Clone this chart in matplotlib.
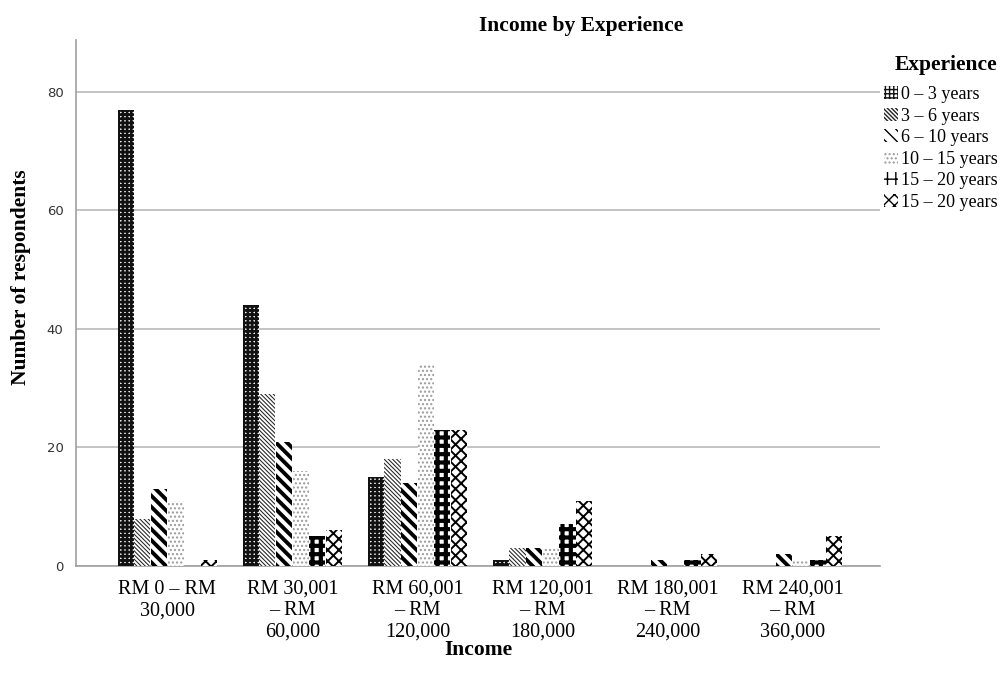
import numpy as np
import matplotlib
matplotlib.use("Agg")
import matplotlib.pyplot as plt

# income bands on the x axis
income = ["RM 0 \u2013 RM\n30,000", "RM 30,001\n\u2013 RM\n60,000", "RM 60,001\n\u2013 RM\n120,000",
          "RM 120,001\n\u2013 RM\n180,000", "RM 180,001\n\u2013 RM\n240,000", "RM 240,001\n\u2013 RM\n360,000"]

# experience groups (legend) - the last label is duplicated in the original
experience = ["0 \u2013 3 years", "3 \u2013 6 years", "6 \u2013 10 years",
              "10 \u2013 15 years", "15 \u2013 20 years", "15 \u2013 20 years"]

exp_0_3 = [77, 44, 15, 1, 0, 0]
exp_3_6 = [8, 29, 18, 3, 0, 0]
exp_6_10 = [13, 21, 14, 3, 1, 2]
exp_10_15 = [11, 16, 34, 3, 0, 1]
exp_15_20 = [0, 5, 23, 7, 1, 1]
exp_15_20b = [1, 6, 23, 11, 2, 5]

series = [exp_0_3, exp_3_6, exp_6_10, exp_10_15, exp_15_20, exp_15_20b]

# (facecolor, hatchcolor, hatch, hatch linewidth)
styles = [
    ("white", "#111111", "++++", 1.9),
    ("white", "#222222", "\\" * 8, 0.75),
    ("white", "black", "\\" * 3, 2.8),
    ("white", "#9a9a9a", "....", 1.0),
    ("white", "black", "++", 3.0),
    ("white", "black", "xxx", 1.4),
]

serif = "Liberation Serif"

fig = plt.figure(figsize=(10.06, 6.86), dpi=100)
ax = fig.add_axes([0.0755, 0.175, 0.7995, 0.767])

x = np.arange(len(income))
w = 0.133
bars = []
for i, (vals, st) in enumerate(zip(series, styles)):
    fc, hc, hatch, hlw = st
    with plt.rc_context({"hatch.linewidth": hlw}):
        b = ax.bar(x + (i - 2.5) * w, vals, width=w * 0.97, facecolor=fc,
                   edgecolor=hc, hatch=hatch, linewidth=0, label=experience[i],
                   zorder=3)
    for p in b.patches:
        if hasattr(p, "set_hatch_linewidth"):
            p.set_hatch_linewidth(hlw)
    bars.append(b)

ax.set_xlim(-0.73, 5.7)
ax.set_ylim(0, 88.8)
ax.set_yticks([0, 20, 40, 60, 80])
ax.yaxis.grid(True, color="#b9b9b9", linewidth=1.2, zorder=0)
ax.set_axisbelow(True)

for s in ["top", "right"]:
    ax.spines[s].set_visible(False)
for s in ["left", "bottom"]:
    ax.spines[s].set_color("#a0a0a0")
    ax.spines[s].set_linewidth(1.2)
ax.tick_params(axis="both", length=0)
ax.tick_params(axis="y", labelsize=9.5, labelcolor="#333333", pad=9)

ax.set_xticks(x)
ax.set_xticklabels(income, fontfamily=serif, fontsize=14.5, linespacing=1.16)
ax.tick_params(axis="x", pad=10)

ax.set_ylabel("Number of respondents", fontfamily=serif, fontweight="bold",
              fontsize=15.5)
ax.yaxis.set_label_coords(-0.056, 0.548)
ax.set_xlabel("Income", fontfamily=serif, fontweight="bold", fontsize=15.5, labelpad=-1)
fig.text(0.578, 0.962, "Income by Experience", fontfamily=serif, fontweight="bold",
         fontsize=15.5, ha="center", va="center")

leg = fig.legend(handles=bars, labels=experience, loc="upper left",
                 bbox_to_anchor=(0.872, 0.93), frameon=False, title="Experience",
                 prop={"family": serif, "size": 13}, handlelength=0.75, handleheight=0.75,
                 handletextpad=0.15, labelspacing=0.25, borderaxespad=0)
leg.get_title().set_fontfamily(serif)
leg.get_title().set_fontweight("bold")
leg.get_title().set_fontsize(15.5)
leg._legend_box.align = "right"
leg._legend_box.sep += 4.5

fig.savefig("out.png", dpi=100)
